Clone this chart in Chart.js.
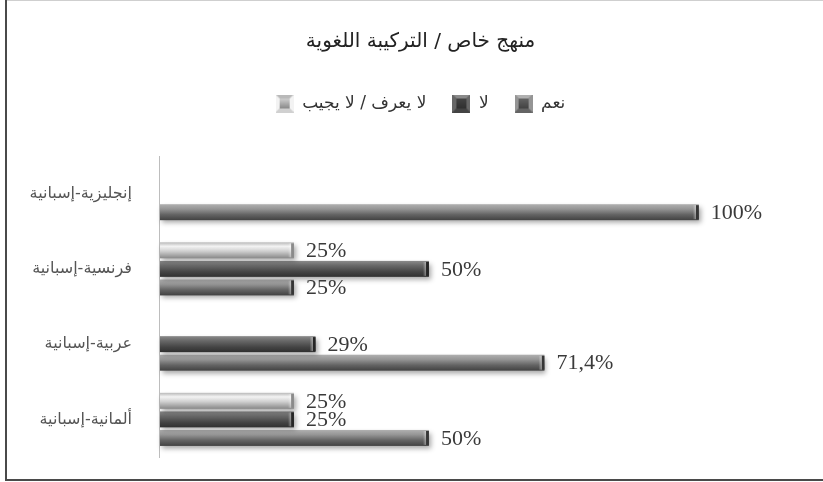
<!DOCTYPE html>
<html lang="ar">
<head>
<meta charset="utf-8">
<script src="https://cdn.jsdelivr.net/npm/chart.js@4.4.1/dist/chart.umd.min.js"></script>
<style>
  html, body { margin: 0; padding: 0; background: #fff; }
  #wrap { position: relative; width: 823px; height: 482px; }
</style>
</head>
<body>
<div id="wrap"><canvas id="c" width="823" height="482"></canvas></div>
<script>
// Survey: special programme by language combination (percent of answers)
const chartTitle = 'منهج خاص / التركيبة اللغوية';
const categories = ['إنجليزية-إسبانية', 'فرنسية-إسبانية', 'عربية-إسبانية', 'ألمانية-إسبانية'];
const seriesNames = ['لا يعرف / لا يجيب', 'لا', 'نعم'];
const dontKnow = [null, 25, null, 25];
const no       = [null, 50, 29, 25];
const yes      = [100, 25, 71.4, 50];

const ARABIC = "'DejaVu Sans', sans-serif";

// cylinder-like shading for each series (top -> bottom)
const shades = [
  { flat: '#bdbdbd', stops: [[0, '#b9b9b9'], [0.25, '#f3f3f3'], [0.55, '#d0d0d0'], [1, '#888888']], cap: '#8a8a8a' },
  { flat: '#555555', stops: [[0, '#8a8a8a'], [0.3, '#676767'], [0.7, '#434343'], [1, '#303030']], cap: '#262626' },
  { flat: '#777777', stops: [[0, '#b0b0b0'], [0.3, '#959595'], [0.65, '#646464'], [1, '#424242']], cap: '#363636' }
];

function legendIcon(i) {
  const s = 18, b = 4;
  const c = document.createElement('canvas');
  c.width = s; c.height = s;
  const x = c.getContext('2d');
  const sh = shades[i];
  x.fillStyle = sh.flat;
  x.fillRect(0, 0, s, s);
  const poly = (pts, col) => {
    x.beginPath(); x.moveTo(pts[0][0], pts[0][1]);
    pts.slice(1).forEach(p => x.lineTo(p[0], p[1]));
    x.closePath(); x.fillStyle = col; x.fill();
  };
  poly([[0, 0], [s, 0], [s - b, b], [b, b]], sh.stops[0][1]);
  poly([[0, 0], [b, b], [b, s - b], [0, s]], sh.stops[1][1]);
  poly([[s, 0], [s, s], [s - b, s - b], [s - b, b]], sh.stops[1][1]);
  poly([[0, s], [b, s - b], [s - b, s - b], [s, s]], sh.stops[2][1]);
  const g = x.createLinearGradient(0, b, 0, s - b);
  g.addColorStop(0, sh.stops[2][1]);
  g.addColorStop(1, sh.stops[3][1]);
  x.fillStyle = g;
  x.fillRect(b, b, s - 2 * b, s - 2 * b);
  return c;
}
const icons = seriesNames.map((_, i) => legendIcon(i));

// page frame
const framePlugin = {
  id: 'frame',
  beforeDraw(chart) {
    const ctx = chart.ctx;
    ctx.save();
    ctx.fillStyle = '#fff';
    ctx.fillRect(0, 0, chart.width, chart.height);
    ctx.strokeStyle = '#cfcfcf';
    ctx.lineWidth = 1;
    ctx.beginPath(); ctx.moveTo(5, 0.5); ctx.lineTo(chart.width, 0.5); ctx.stroke();
    ctx.strokeStyle = '#4a4a4a';
    ctx.lineWidth = 2;
    ctx.beginPath();
    ctx.moveTo(6, 0); ctx.lineTo(6, 480); ctx.lineTo(chart.width, 480);
    ctx.stroke();
    ctx.restore();
  }
};

// shaded bars with soft shadow and bevelled end
const barLook = {
  id: 'barLook',
  beforeDatasetDraw(chart, args) {
    const ctx = chart.ctx;
    const i = args.index;
    const sh = shades[i];
    const data = chart.data.datasets[i].data;
    ctx.save();
    args.meta.data.forEach((bar, j) => {
      if (data[j] == null) return;
      const p = bar.getProps(['x', 'y', 'base', 'height'], true);
      const top = p.y - p.height / 2;
      const left = Math.min(p.base, p.x) + 1;
      const w = Math.abs(p.x - p.base) - 1;
      const g = ctx.createLinearGradient(0, top, 0, top + p.height);
      sh.stops.forEach(s => g.addColorStop(s[0], s[1]));
      ctx.save();
      ctx.shadowColor = 'rgba(0,0,0,0.35)';
      ctx.shadowBlur = 5;
      ctx.shadowOffsetX = 2;
      ctx.shadowOffsetY = 3;
      ctx.fillStyle = g;
      ctx.fillRect(left, top, w, p.height);
      ctx.restore();
      const cg = ctx.createLinearGradient(left + w - 6, 0, left + w, 0);
      cg.addColorStop(0, 'rgba(255,255,255,0)');
      cg.addColorStop(0.45, 'rgba(255,255,255,0.35)');
      cg.addColorStop(0.6, sh.cap);
      cg.addColorStop(1, sh.cap);
      ctx.fillStyle = cg;
      ctx.fillRect(left + w - 6, top + 1, 6, p.height - 2);
    });
    ctx.restore();
    return false;
  }
};

// value labels beside each bar
const valueLabels = {
  id: 'valueLabels',
  afterDatasetsDraw(chart) {
    const ctx = chart.ctx;
    ctx.save();
    ctx.font = "22px 'Liberation Serif', serif";
    ctx.fillStyle = '#3a3a3a';
    ctx.textBaseline = 'middle';
    ctx.textAlign = 'left';
    chart.data.datasets.forEach((ds, i) => {
      chart.getDatasetMeta(i).data.forEach((bar, j) => {
        const v = ds.data[j];
        if (v == null) return;
        const txt = String(v).replace('.', ',') + '%';
        ctx.fillText(txt, bar.x + 12, bar.y + 1);
      });
    });
    ctx.restore();
  }
};

const series = [dontKnow, no, yes];

new Chart(document.getElementById('c'), {
  type: 'bar',
  data: {
    labels: categories,
    datasets: series.map((d, i) => ({
      label: seriesNames[i],
      data: d,
      backgroundColor: shades[i].flat,
      categoryPercentage: 0.74,
      barPercentage: 0.86
    }))
  },
  options: {
    indexAxis: 'y',
    responsive: false,
    animation: false,
    layout: { padding: { left: 18, right: 0, top: 0, bottom: 25 } },
    scales: {
      x: {
        display: true,
        position: 'top',
        min: 0,
        max: 123,
        grid: { display: false, drawTicks: false },
        border: { display: false },
        ticks: { display: false },
        afterFit(scale) { scale.height = 34; }
      },
      y: {
        grid: { display: false, drawTicks: false },
        border: { display: true, color: '#bdbdbd', width: 1 },
        ticks: { font: { family: ARABIC, size: 16 }, color: '#555', padding: 27 },
        afterFit(scale) {
          scale.width = 141;
          scale.paddingTop = 0;
          scale.paddingBottom = 0;
        }
      }
    },
    plugins: {
      title: {
        display: true,
        text: chartTitle,
        color: '#222',
        font: { family: ARABIC, size: 20, weight: 'normal' },
        padding: { top: 30, bottom: 15 }
      },
      legend: {
        display: true,
        labels: {
          font: { family: ARABIC, size: 17 },
          color: '#333',
          usePointStyle: true,
          pointStyleWidth: 18,
          padding: 26,
          generateLabels(chart) {
            const items = Chart.defaults.plugins.legend.labels.generateLabels(chart);
            items.forEach(it => { it.pointStyle = icons[it.datasetIndex]; });
            return items;
          }
        }
      },
      tooltip: { enabled: false }
    }
  },
  plugins: [framePlugin, barLook, valueLabels]
});
</script>
</body>
</html>
